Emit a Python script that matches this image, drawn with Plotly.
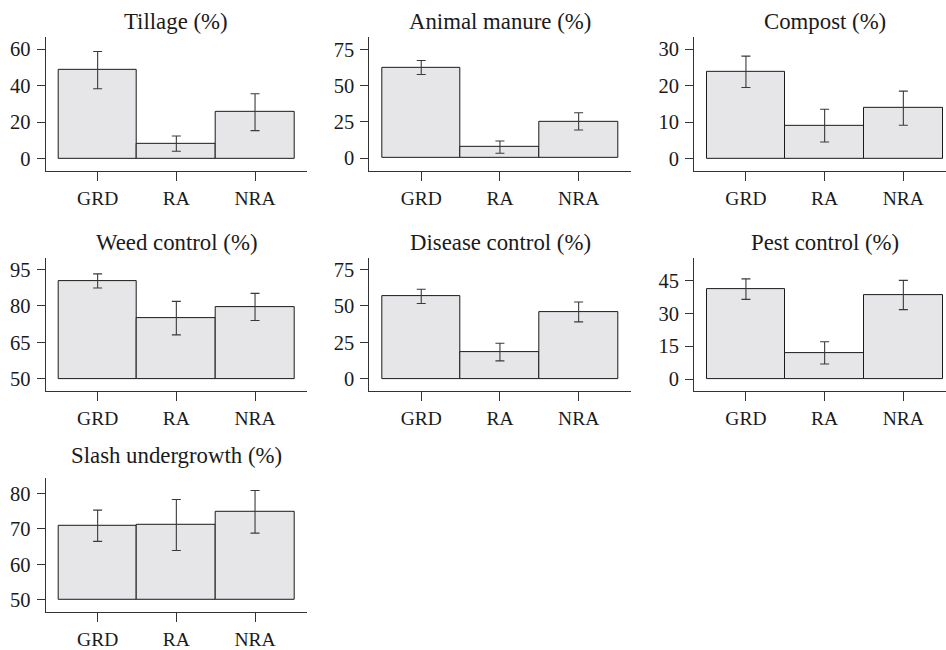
import plotly.graph_objects as go

W, H = 946, 650
categories = ["GRD", "RA", "NRA"]

titles = ["Tillage (%)", "Animal manure (%)", "Compost (%)",
          "Weed control (%)", "Disease control (%)", "Pest control (%)",
          "Slash undergrowth (%)"]

tillage_mean = [48.5, 8.2, 25.4]
tillage_err = [10.2, 4.2, 10.1]
manure_mean = [62.5, 7.7, 25.4]
manure_err = [4.8, 4.2, 5.9]
compost_mean = [23.8, 9.0, 13.8]
compost_err = [4.3, 4.5, 4.7]
weed_mean = [90.3, 75.0, 79.6]
weed_err = [2.9, 6.9, 5.6]
disease_mean = [56.6, 18.4, 45.9]
disease_err = [4.9, 6.0, 6.8]
pest_mean = [41.2, 12.0, 38.5]
pest_err = [4.7, 5.1, 6.7]
slash_mean = [70.9, 71.1, 74.8]
slash_err = [4.4, 7.2, 6.0]

tillage_ticks = [0, 20, 40, 60]
manure_ticks = [0, 25, 50, 75]
compost_ticks = [0, 10, 20, 30]
weed_ticks = [50, 65, 80, 95]
disease_ticks = [0, 25, 50, 75]
pest_ticks = [0, 15, 30, 45]
slash_ticks = [50, 60, 70, 80]

means = [tillage_mean, manure_mean, compost_mean, weed_mean, disease_mean, pest_mean, slash_mean]
errs = [tillage_err, manure_err, compost_err, weed_err, disease_err, pest_err, slash_err]
ticks = [tillage_ticks, manure_ticks, compost_ticks, weed_ticks, disease_ticks, pest_ticks, slash_ticks]
bases = [0, 0, 0, 50, 0, 0, 50]
yranges = [[-6.9, 66.7], [-8.9, 83.6], [-3.5, 33.4], [44.8, 99.7],
           [-8.6, 82.8], [-5.7, 55.4], [46.55, 84.4]]

# pixel layout of plot areas
col_px = [(45.7, 307.0), (369.3, 631.0), (694.0, 946.0)]
row_px = [(37.0, 172.0), (259.3, 393.3), (480.0, 615.0)]
title_px = [22.0, 244.0, 458.0]
px_per_unit = 78.7

font_family = "Liberation Serif, Times New Roman, serif"
txt = "#1a1a1a"

fig = go.Figure()
for i in range(7):
    r, c = divmod(i, 3)
    n = i + 1
    xa = "x" if n == 1 else f"x{n}"
    ya = "y" if n == 1 else f"y{n}"
    b = bases[i]
    fig.add_trace(go.Bar(
        x=[0, 1, 2], y=[m - b for m in means[i]], base=b, width=1,
        marker=dict(color="#e6e6e8", line=dict(color="#1a1a1a", width=1)),
        error_y=dict(type="data", array=errs[i], visible=True,
                     color="#3a3a3a", thickness=1.1, width=4.5),
        xaxis=xa, yaxis=ya, showlegend=False, hoverinfo="skip"))
    x0, x1 = col_px[c]
    y0, y1 = row_px[r]
    xr0 = -0.66
    xr1 = xr0 + (x1 - x0) / px_per_unit
    axcommon = dict(showline=True, linecolor="#333", linewidth=1, ticks="outside",
                    tickcolor="#333", tickwidth=1, showgrid=False, zeroline=False)
    fig.layout[f"xaxis{'' if n == 1 else n}"] = dict(
        domain=[x0 / W, x1 / W], range=[xr0, xr1], anchor=ya,
        tickmode="array", tickvals=[0, 1, 2], ticktext=categories,
        ticklen=9, tickfont=dict(family=font_family, size=19.5, color=txt), **axcommon)
    fig.layout[f"yaxis{'' if n == 1 else n}"] = dict(
        domain=[1 - y1 / H, 1 - y0 / H], range=yranges[i], anchor=xa,
        tickmode="array", tickvals=ticks[i], ticklen=8, ticklabelstandoff=2,
        tickfont=dict(family=font_family, size=20.5, color=txt), **axcommon)
    cx = (x0 + (955.7 if c == 2 else x1)) / 2
    fig.add_annotation(text=titles[i], x=cx / W, y=1 - title_px[r] / H,
                       xref="paper", yref="paper", showarrow=False,
                       xanchor="center", yanchor="middle",
                       font=dict(family=font_family, size=22.8, color=txt))

fig.update_layout(width=W, height=H, margin=dict(l=0, r=0, t=0, b=0),
                  paper_bgcolor="white", plot_bgcolor="white", bargap=0)
fig.write_html("out.html", config={"displayModeBar": False},
               post_script="document.body.style.margin='0';document.body.style.overflow='hidden';")
